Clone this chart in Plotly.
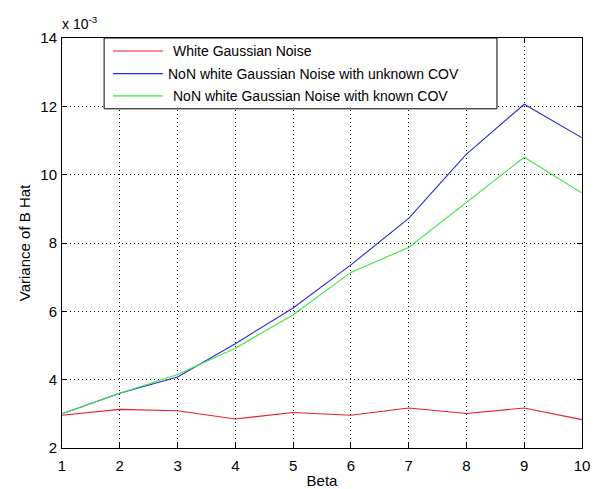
import plotly.graph_objects as go

# Beta values on the x axis
beta = [1, 2, 3, 4, 5, 6, 7, 8, 9, 10]

# Variance of B hat, in units of 1e-3
var_white = [2.96, 3.13, 3.09, 2.85, 3.04, 2.96, 3.17, 3.01, 3.17, 2.83]
var_nonwhite_unknown = [3.00, 3.60, 4.08, 5.05, 6.10, 7.36, 8.72, 10.60, 12.06, 11.08]
var_nonwhite_known = [3.00, 3.60, 4.15, 4.92, 5.90, 7.14, 7.87, 9.20, 10.51, 9.46]

series_names = [
    "White Gaussian Noise",
    "NoN white Gaussian Noise with unknown COV",
    "NoN white Gaussian Noise with known COV",
]
series_values = [var_white, var_nonwhite_unknown, var_nonwhite_known]
series_colors = ["#e02028", "#2a2ad0", "#3ce83c"]

x_ticks = list(range(1, 11))
y_ticks = [2, 4, 6, 8, 10, 12, 14]

FONT = "Liberation Sans, Arial, sans-serif"

fig = go.Figure()
for name, vals, col in zip(series_names, series_values, series_colors):
    fig.add_trace(go.Scatter(
        x=beta, y=vals, mode="lines", name=name,
        line=dict(color=col, width=1.1), showlegend=False,
    ))

axis_common = dict(
    showline=True, linecolor="black", linewidth=1, mirror="ticks",
    ticks="inside", ticklen=5, tickcolor="black",
    showgrid=True, gridcolor="black", gridwidth=1, griddash="1px,3px",
    zeroline=False, automargin=False,
    tickfont=dict(family=FONT, size=15, color="black"),
)

fig.update_xaxes(
    range=[1, 10], tickvals=x_ticks, ticktext=[str(v) for v in x_ticks],
    ticklabelstandoff=4,
    title=dict(text="Beta", font=dict(family=FONT, size=15, color="black"), standoff=6),
    **axis_common,
)
fig.update_yaxes(
    range=[2, 14], tickvals=y_ticks, ticktext=[str(v) for v in y_ticks],
    ticklabelstandoff=1,
    title=dict(text="Variance of B Hat", font=dict(family=FONT, size=15, color="black"), standoff=6),
    **axis_common,
)

# Scale factor label above the y axis
fig.add_annotation(
    xref="paper", yref="paper", x=0, y=1, xanchor="left", yanchor="bottom",
    yshift=4, xshift=-2, showarrow=False, text="x 10<sup>-3</sup>",
    font=dict(family=FONT, size=14, color="black"),
)

# Boxed legend in the upper-left corner of the axes
box_x0, box_x1, box_y0, box_y1 = 0.081, 0.8365, 0.8273, 1.0
fig.add_shape(type="rect", xref="paper", yref="paper",
              x0=box_x0, x1=box_x1, y0=box_y0, y1=box_y1,
              line=dict(color="black", width=1), fillcolor="white", layer="above")
row_y = [0.9684, 0.9131, 0.8589]
text_x = [0.2096, 0.2, 0.2096]
for name, col, yy, tx in zip(series_names, series_colors, row_y, text_x):
    fig.add_shape(type="line", xref="paper", yref="paper",
                  x0=0.098, x1=0.194, y0=yy, y1=yy,
                  line=dict(color=col, width=1.1), layer="above")
    fig.add_annotation(xref="paper", yref="paper", x=tx, y=yy,
                       xanchor="left", yanchor="middle", showarrow=False,
                       text=name, font=dict(family=FONT, size=14, color="black"))

fig.update_layout(
    width=599, height=489,
    margin=dict(l=62, r=17, t=38, b=41),
    paper_bgcolor="white", plot_bgcolor="white",
    font=dict(family=FONT, color="black"),
)

fig.write_html("out.html")
